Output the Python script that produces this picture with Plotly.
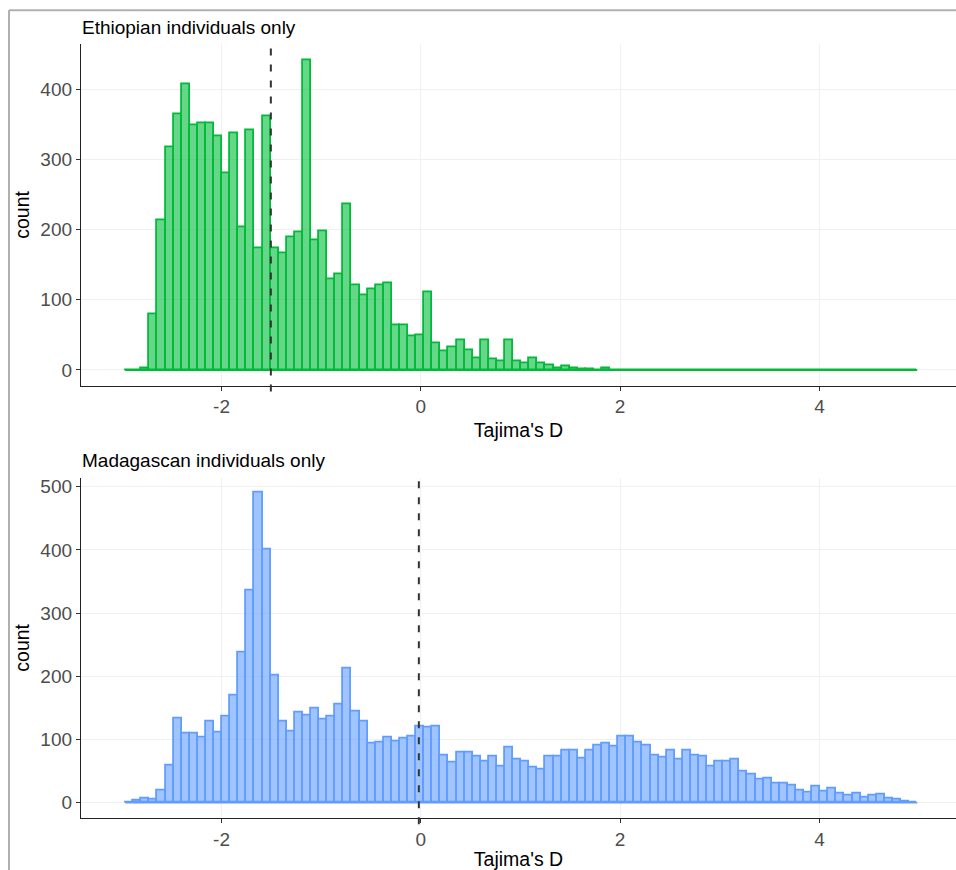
import plotly.graph_objects as go

# Shared histogram binning of Tajima's D (both panels use the same bins)
bin_start = -2.967
bin_width = 0.0811

# Counts per bin, Ethiopian individuals
eth_counts = [
    0, 0, 3, 80, 213, 317, 364, 407, 348, 352,
    351, 333, 280, 337, 204, 342, 173, 362, 173, 167,
    189, 196, 442, 185, 198, 129, 136, 236, 121, 107,
    115, 120, 123, 63, 64, 48, 49, 111, 38, 27,
    32, 42, 28, 17, 42, 15, 12, 43, 12, 10,
    16, 9, 6, 3, 5, 3, 1, 1, 0, 2,
    0, 0, 0, 0, 0, 0, 0, 0, 0, 0,
    0, 0, 0, 0, 0, 0, 0, 0, 0, 0,
    0, 0, 0, 0, 0, 0, 0, 0, 0, 0,
    0, 0, 0, 0, 0, 0, 0, 0,
]

# Counts per bin, Madagascan individuals
mad_counts = [
    1, 4, 7, 5, 19, 59, 134, 109, 109, 103,
    128, 111, 136, 169, 238, 336, 490, 400, 201, 128,
    113, 142, 138, 149, 132, 137, 155, 213, 145, 128,
    93, 95, 103, 97, 101, 105, 121, 119, 121, 75,
    63, 80, 79, 73, 65, 73, 57, 87, 69, 66,
    55, 52, 73, 73, 83, 83, 70, 83, 91, 93,
    89, 104, 104, 96, 91, 75, 72, 82, 69, 82,
    75, 73, 57, 66, 66, 69, 49, 45, 36, 39,
    31, 30, 28, 19, 16, 25, 17, 23, 15, 11,
    15, 9, 11, 13, 7, 5, 2, 1,
]

# Mean Tajima's D per group (dashed reference lines)
eth_mean = -1.505
mad_mean = -0.02

titles = ["Ethiopian individuals only", "Madagascan individuals only"]
x_tickvals = [-2, 0, 2, 4]
x_ticktext = ["-2", "0", "2", "4"]
eth_yticks = [0, 100, 200, 300, 400]
mad_yticks = [0, 100, 200, 300, 400, 500]

FONT = "Liberation Sans, Arial, sans-serif"
W, H = 956, 870


def centers(counts):
    return [bin_start + (i + 0.5) * bin_width for i in range(len(counts))]


def edges(counts):
    return [bin_start, bin_start + len(counts) * bin_width]


x_dom = [81 / W, 1.0]
top_dom = [1 - 385.5 / H, 1 - 44.3 / H]
bot_dom = [1 - 818.2 / H, 1 - 477.5 / H]

fig = go.Figure()

panels = [
    dict(counts=eth_counts, line="#00BA38", fill="rgba(0,186,56,0.6)",
         mean=eth_mean, xa="x", ya="y", dom=top_dom),
    dict(counts=mad_counts, line="#619CFF", fill="rgba(97,156,255,0.6)",
         mean=mad_mean, xa="x2", ya="y2", dom=bot_dom),
]

for p in panels:
    # outline of the empty bins along zero
    fig.add_trace(go.Scatter(
        x=edges(p["counts"]), y=[0, 0], mode="lines",
        line=dict(color=p["line"], width=1.8),
        xaxis=p["xa"], yaxis=p["ya"], showlegend=False, hoverinfo="skip",
    ))
    fig.add_trace(go.Bar(
        x=centers(p["counts"]), y=p["counts"], width=bin_width,
        marker=dict(color=p["fill"], line=dict(color=p["line"], width=1.8)),
        xaxis=p["xa"], yaxis=p["ya"], showlegend=False,
    ))

shapes = []
for p in panels:
    # vertical dashed line at the group mean, spanning the panel height
    shapes.append(dict(
        type="line", xref=p["xa"], yref="paper",
        x0=p["mean"], x1=p["mean"], y0=p["dom"][0] - 6 / H, y1=p["dom"][1],
        line=dict(color="#333333", width=2, dash="7px,9px"),
    ))

# light grey frame around the figure (top and left edges)
fx = 9 / W
fy = 1 - 10.3 / H
shapes.append(dict(type="line", xref="paper", yref="paper", x0=fx, x1=1.0,
                   y0=fy, y1=fy, line=dict(color="#B0B0B0", width=2)))
shapes.append(dict(type="line", xref="paper", yref="paper", x0=fx, x1=fx,
                   y0=0, y1=fy, line=dict(color="#B0B0B0", width=2)))

common_x = dict(
    range=[-3.41, 5.37], tickvals=x_tickvals, ticktext=x_ticktext,
    showline=True, linecolor="#222222", linewidth=1.3,
    ticks="outside", ticklen=4, tickwidth=1.3, tickcolor="#333333",
    showgrid=True, gridcolor="#F0F0F0", gridwidth=1, zeroline=False,
    tickfont=dict(family=FONT, size=19, color="#4D4D4D"),
    title=dict(text="Tajima's D", font=dict(family=FONT, size=19.5, color="#000000"),
               standoff=6),
    automargin=False, domain=x_dom,
)
common_y = dict(
    showline=True, linecolor="#222222", linewidth=1.3,
    ticks="outside", ticklen=4, tickwidth=1.3, tickcolor="#333333",
    showgrid=True, gridcolor="#F0F0F0", gridwidth=1, zeroline=False,
    tickfont=dict(family=FONT, size=19, color="#4D4D4D"),
    title=dict(text="count", font=dict(family=FONT, size=19.5, color="#000000"),
               standoff=5),
    automargin=False,
)

annotations = []
for title, dom in zip(titles, [top_dom, bot_dom]):
    annotations.append(dict(
        text=title, xref="paper", yref="paper", x=80 / W, y=dom[1] + 17 / H,
        xanchor="left", yanchor="middle", showarrow=False,
        font=dict(family=FONT, size=19, color="#000000"),
    ))

fig.update_layout(
    template="none",
    width=W, height=H,
    margin=dict(l=0, r=0, t=0, b=0),
    paper_bgcolor="#FFFFFF", plot_bgcolor="#FFFFFF",
    bargap=0, barmode="overlay",
    xaxis=dict(common_x, anchor="y"),
    yaxis=dict(common_y, domain=top_dom, range=[-22.1, 464.1],
               tickvals=eth_yticks, anchor="x"),
    xaxis2=dict(common_x, anchor="y2"),
    yaxis2=dict(common_y, domain=bot_dom, range=[-24.5, 514.5],
                tickvals=mad_yticks, anchor="x2"),
    shapes=shapes,
    annotations=annotations,
    showlegend=False,
)

fig.write_html("out.html")
